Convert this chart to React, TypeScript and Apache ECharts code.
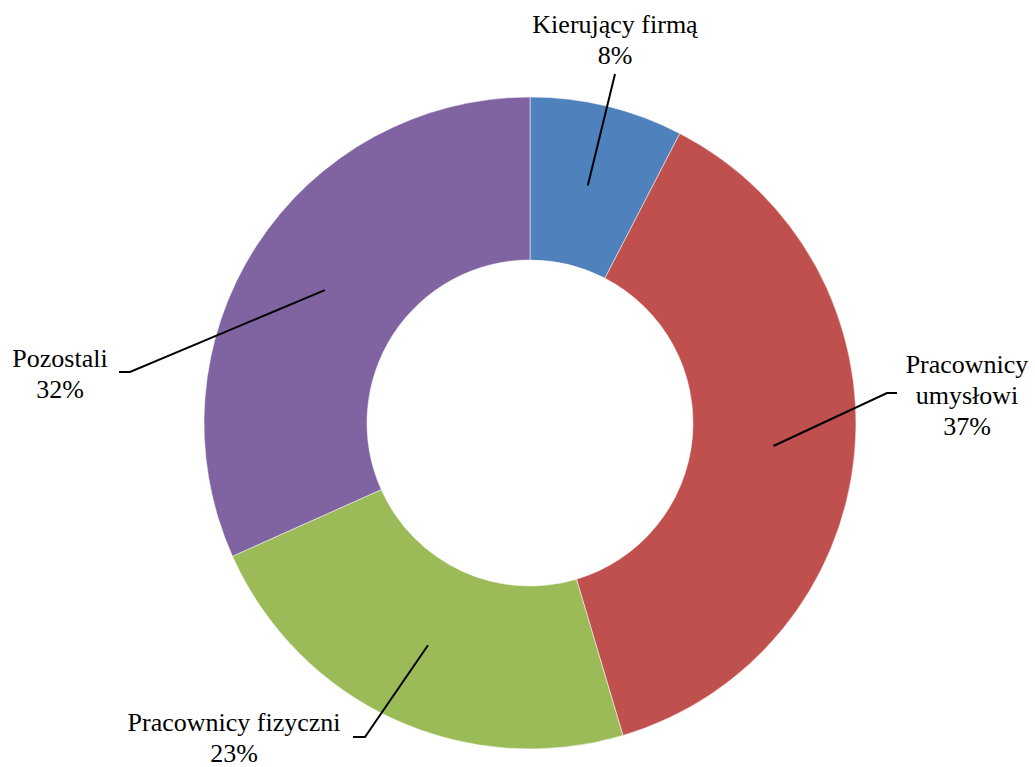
import React, { useEffect, useRef } from "react";
import * as echarts from "echarts";

const categories = ["Kierujący firmą", "Pracownicy umysłowi", "Pracownicy fizyczni", "Pozostali"];
// slice shares as measured from the ring
const values = [7.6, 37.8, 22.9, 31.7];
// percentages as printed on the labels
const labelPercents = [8, 37, 23, 32];
const colors = ["#4F81BD", "#C0504D", "#9BBB59", "#8064A2"];

// label layout (text anchor: centre x, top y; line elbow and end)
const labelLayouts = [
  { x: 615, y: 9, elbow: [615, 74], end: [615, 74], wrap: false },
  { x: 967, y: 349, elbow: [887, 393], end: [897, 393], wrap: true },
  { x: 234, y: 707, elbow: [365, 737], end: [353, 737], wrap: false },
  { x: 60, y: 343, elbow: [130, 372], end: [119, 372], wrap: false },
];

const CX = 530;
const CY = 423;
const R_IN = 163;
const R_OUT = 326;
const FONT = "Liberation Serif";

export default function App() {
  const ref = useRef<HTMLDivElement>(null);
  useEffect(() => {
    document.body.style.margin = "0";
    document.body.style.overflow = "hidden";
    const chart = echarts.init(ref.current!, null, { renderer: "svg" });
    const total = values.reduce((a, b) => a + b, 0);
    const mids: number[] = [];
    let cum = 0;
    values.forEach((v) => {
      mids.push(((cum + v / 2) / total) * Math.PI * 2);
      cum += v;
    });
    const rMid = (R_IN + R_OUT) / 2;
    const lines = labelLayouts.map((L, i) => {
      const a = mids[i];
      const sx = CX + rMid * Math.sin(a);
      const sy = CY - rMid * Math.cos(a);
      return {
        type: "polyline",
        z: 100,
        shape: { points: [[sx, sy], L.elbow, L.end] },
        style: { stroke: "#000000", lineWidth: 2, fill: "none" },
      };
    });
    chart.setOption({
      animation: false,
      backgroundColor: "#ffffff",
      graphic: lines,
      series: [
        {
          type: "pie",
          center: [CX, CY],
          radius: [R_IN, R_OUT],
          startAngle: 90,
          clockwise: true,
          avoidLabelOverlap: false,
          itemStyle: { borderColor: "#ffffff", borderWidth: 0.5 },
          data: categories.map((c, i) => ({
            name: c,
            value: values[i],
            itemStyle: { color: colors[i] },
          })),
          label: {
            show: true,
            position: "outside",
            fontFamily: FONT,
            fontSize: 26,
            lineHeight: 31,
            color: "#000000",
            align: "center",
            formatter: (p: any) => {
              const name = labelLayouts[p.dataIndex].wrap ? p.name.replace(" ", "\n") : p.name;
              return `${name}\n${labelPercents[p.dataIndex]}%`;
            },
          },
          labelLine: { show: false },
          labelLayout: (params: any) => {
            const L = labelLayouts[params.dataIndex];
            return { x: L.x, y: L.y, align: "center", verticalAlign: "top" };
          },
        },
      ],
    });
    return () => chart.dispose();
  }, []);
  return <div ref={ref} style={{ width: 1035, height: 767 }} />;
}
